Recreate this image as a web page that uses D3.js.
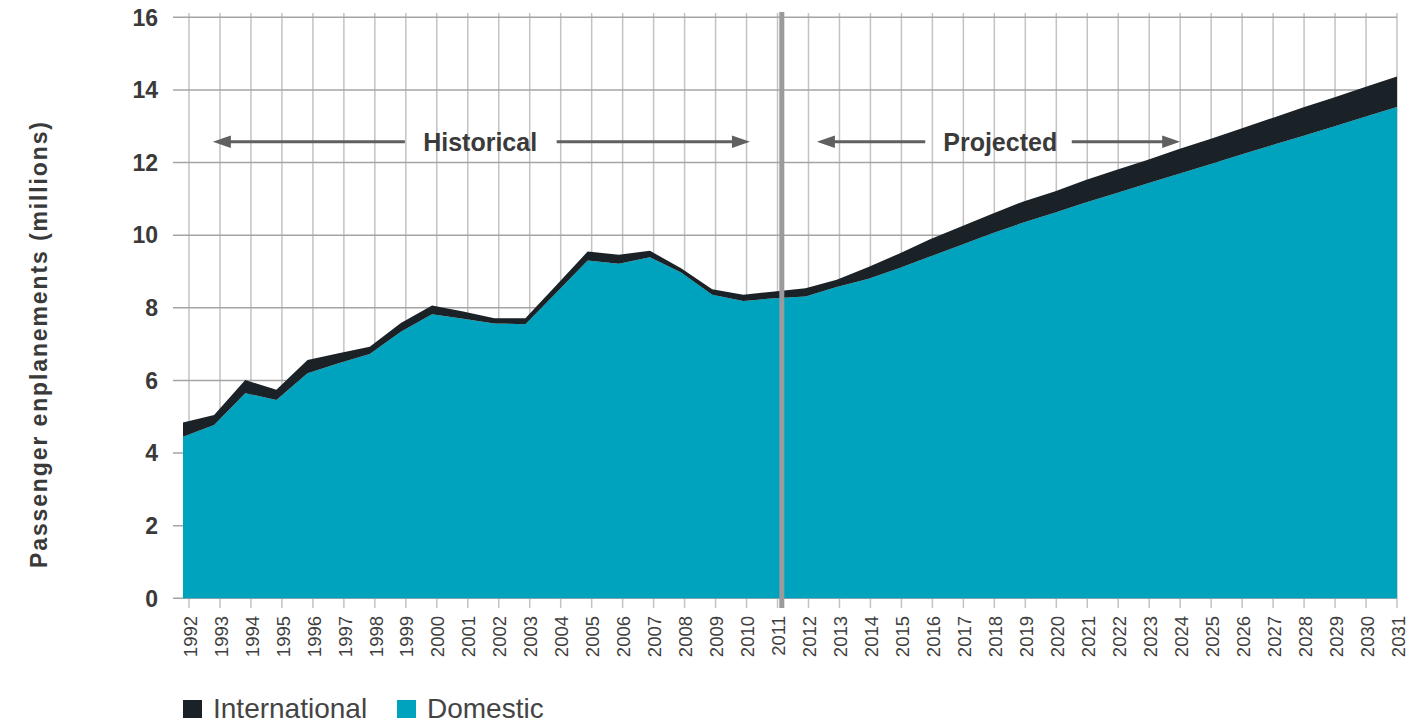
<!DOCTYPE html>
<html>
<head>
<meta charset="utf-8">
<script src="https://cdn.jsdelivr.net/npm/d3@7/dist/d3.min.js"></script>
<style>
  html, body { margin: 0; padding: 0; background: #fff; }
  svg { display: block; font-family: "Liberation Sans", Arial, sans-serif; }
</style>
</head>
<body>
<svg id="chart" width="1428" height="723"></svg>
<script>
// ---- data ----
const years = d3.range(1992, 2032);
const domestic = [
  4.45, 4.77, 5.65, 5.46, 6.20, 6.47, 6.73, 7.34, 7.82, 7.70,
  7.57, 7.55, 8.42, 9.30, 9.21, 9.39, 8.97, 8.36, 8.19, 8.26,
  8.31, 8.57, 8.79, 9.09, 9.41, 9.73, 10.05, 10.35, 10.62, 10.90,
  11.16, 11.43, 11.69, 11.95, 12.22, 12.48, 12.74, 13.00, 13.27, 13.53
];
const international = [
  0.39, 0.28, 0.36, 0.28, 0.36, 0.28, 0.20, 0.24, 0.24, 0.20,
  0.14, 0.16, 0.21, 0.25, 0.25, 0.18, 0.12, 0.15, 0.17, 0.19,
  0.23, 0.20, 0.33, 0.40, 0.48, 0.51, 0.54, 0.58, 0.58, 0.62,
  0.64, 0.65, 0.68, 0.70, 0.72, 0.75, 0.78, 0.80, 0.82, 0.84
];
const yTicks = [0, 2, 4, 6, 8, 10, 12, 14, 16];
const seriesNames = ["International", "Domestic"];
const colors = { International: "#1b2227", Domestic: "#00a3be" };
const yTitle = "Passenger enplanements (millions)";
const periods = [
  { label: "Historical", from: 1992.77, to: 2010.11, gapFrom: 1998.97, gapTo: 2003.87, center: 2001.4 },
  { label: "Projected", from: 2012.27, to: 2024.0, gapFrom: 2015.77, gapTo: 2020.5, center: 2018.19 }
];
const dividerYear = 2011;

// ---- layout ----
const svg = d3.select("#chart");
const yTop = 17.3, yBottom = 598.3;
const y = d3.scaleLinear().domain([0, 16]).range([yBottom, yTop]);
const xData = d3.scaleLinear().domain([1992, 2031]).range([183, 1397]);
const xTick = d3.scaleLinear().domain([1992, 2031]).range([189, 1397]);
const gridLeft = 173, gridRight = 1397;

const rows = years.map((yr, i) => ({ year: yr, Domestic: domestic[i], International: international[i] }));
const stack = d3.stack().keys(["Domestic", "International"]);
const stacked = stack(rows);

// vertical gridlines
svg.append("g").selectAll("line").data(years).join("line")
  .attr("x1", d => xTick(d)).attr("x2", d => xTick(d))
  .attr("y1", 13).attr("y2", 608)
  .attr("stroke", "#c3c3c3").attr("stroke-width", 1.5);

// horizontal gridlines
svg.append("g").selectAll("line").data(yTicks).join("line")
  .attr("x1", gridLeft).attr("x2", gridRight)
  .attr("y1", d => y(d)).attr("y2", d => y(d))
  .attr("stroke", "#a4a4a4").attr("stroke-width", 1.5);

// areas
const area = d3.area()
  .x(d => xData(d.data.year))
  .y0(d => y(d[0]))
  .y1(d => y(d[1]))
  .curve(d3.curveLinear);
svg.append("g").selectAll("path").data(stacked).join("path")
  .attr("d", area)
  .attr("fill", d => colors[d.key]);

// divider line
svg.append("line")
  .attr("x1", xTick(dividerYear) + 4.3).attr("x2", xTick(dividerYear) + 4.3)
  .attr("y1", 12).attr("y2", 608)
  .attr("stroke", "#9b9b9d").attr("stroke-width", 5);

// y tick labels
svg.append("g").selectAll("text").data(yTicks).join("text")
  .attr("x", 158).attr("y", d => y(d))
  .attr("dy", "0.36em")
  .attr("text-anchor", "end")
  .attr("font-size", 23).attr("font-weight", "bold")
  .attr("fill", "#3a3a3a")
  .text(d => d);

// x tick labels
svg.append("g").selectAll("text").data(years).join("text")
  .attr("transform", d => `translate(${xTick(d) + 1},616) rotate(-90)`)
  .attr("dy", "0.36em")
  .attr("text-anchor", "end")
  .attr("font-size", 18.5)
  .attr("fill", "#404040")
  .text(d => d);

// y title
svg.append("text")
  .attr("transform", "translate(39,345) rotate(-90)")
  .attr("dy", "0.36em")
  .attr("text-anchor", "middle")
  .attr("font-size", 23).attr("font-weight", "bold")
  .attr("fill", "#3a3a3a")
  .attr("textLength", 446).attr("lengthAdjust", "spacing")
  .text(yTitle);

// period annotations
const ay = 141.7;
const arrowColor = "#606060";
const ann = svg.append("g");
periods.forEach(p => {
  const x0 = xTick(p.from), x1 = xTick(p.to);
  const g0 = xTick(p.gapFrom), g1 = xTick(p.gapTo);
  ann.append("line").attr("x1", x0 + 15).attr("x2", g0)
    .attr("y1", ay).attr("y2", ay).attr("stroke", arrowColor).attr("stroke-width", 3);
  ann.append("path")
    .attr("d", `M${x0},${ay} L${x0 + 18},${ay - 6.2} L${x0 + 18},${ay + 6.2} Z`)
    .attr("fill", arrowColor);
  ann.append("line").attr("x1", g1).attr("x2", x1 - 15)
    .attr("y1", ay).attr("y2", ay).attr("stroke", arrowColor).attr("stroke-width", 3);
  ann.append("path")
    .attr("d", `M${x1},${ay} L${x1 - 18},${ay - 6.2} L${x1 - 18},${ay + 6.2} Z`)
    .attr("fill", arrowColor);
  ann.append("text")
    .attr("x", xTick(p.center)).attr("y", ay + 9.5)
    .attr("text-anchor", "middle")
    .attr("font-size", 25).attr("font-weight", "bold")
    .attr("fill", "#3a3a3a")
    .text(p.label);
});

// legend
const legendX = [183, 397];
const lg = svg.append("g");
seriesNames.forEach((name, i) => {
  lg.append("rect").attr("x", legendX[i]).attr("y", 700)
    .attr("width", 19).attr("height", 18).attr("fill", colors[name]);
  lg.append("text").attr("x", legendX[i] + 30).attr("y", 718)
    .attr("font-size", 28).attr("fill", "#444")
    .text(name);
});
</script>
</body>
</html>
